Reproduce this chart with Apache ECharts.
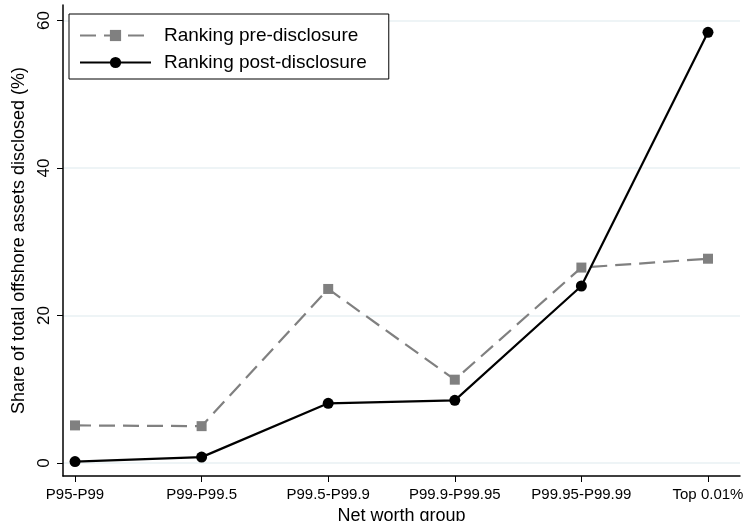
<!DOCTYPE html>
<html>
<head>
<meta charset="utf-8">
<script src="https://cdn.jsdelivr.net/npm/echarts@6/dist/echarts.min.js"></script>
<style>
  html, body { margin: 0; padding: 0; background: #fff; }
  #main { width: 743px; height: 521px; }
</style>
</head>
<body>
<div id="main"></div>
<script>
// net worth groups on the x axis
const groups = ['P95-P99', 'P99-P99.5', 'P99.5-P99.9', 'P99.9-P99.95', 'P99.95-P99.99', 'Top 0.01%'];
// share of total offshore assets disclosed (%)
const preDisclosure = [5.1, 5.0, 23.6, 11.3, 26.5, 27.7];
const postDisclosure = [0.2, 0.8, 8.1, 8.5, 24.0, 58.4];
const yTicks = [0, 20, 40, 60];

const font = 'Arial, "Liberation Sans", Helvetica, sans-serif';

function pairs(vals) {
  return vals.map((v, i) => [i, v]);
}

const chart = echarts.init(document.getElementById('main'));
chart.setOption({
  backgroundColor: '#fff',
  animation: false,
  textStyle: { fontFamily: font, color: '#000' },
  grid: { left: 63, right: 3, top: 5, bottom: 45, outerBoundsMode: 'none', containLabel: false },
  legend: {
    orient: 'vertical',
    left: 69,
    top: 14,
    padding: [12, 22, 7, 10],
    itemWidth: 71,
    itemHeight: 14,
    itemGap: 8,
    borderColor: '#000',
    borderWidth: 1,
    backgroundColor: '#fff',
    textStyle: { fontSize: 19, color: '#000', fontFamily: font, padding: [0, 0, 0, 8] },
    data: ['Ranking pre-disclosure', 'Ranking post-disclosure']
  },
  xAxis: {
    type: 'value',
    min: -0.095,
    max: 5.253,
    name: 'Net worth group',
    nameLocation: 'middle',
    nameGap: 30,
    nameTextStyle: { fontSize: 18, color: '#000', verticalAlign: 'top' },
    axisLine: { onZero: false, lineStyle: { color: '#000', width: 1.5 } },
    axisTick: { length: 6, lineStyle: { color: '#000' }, customValues: [0, 1, 2, 3, 4, 5] },
    axisLabel: {
      fontSize: 15,
      color: '#000',
      margin: 11,
      customValues: [0, 1, 2, 3, 4, 5],
      formatter: v => groups[Math.round(v)]
    },
    splitLine: { show: false }
  },
  yAxis: {
    type: 'value',
    min: -1.76,
    max: 62.1,
    name: 'Share of total offshore assets disclosed (%)',
    nameLocation: 'middle',
    nameGap: 35,
    nameTextStyle: { fontSize: 18, color: '#000' },
    axisLine: { show: true, onZero: false, lineStyle: { color: '#000', width: 1.5 } },
    axisTick: { show: true, length: 6, lineStyle: { color: '#000' }, customValues: yTicks },
    axisLabel: {
      fontSize: 17,
      color: '#000',
      rotate: 90,
      margin: 10,
      customValues: yTicks
    },
    splitLine: { show: true, lineStyle: { color: '#e8f0f3', width: 1.5 } }
  },
  series: [
    {
      name: 'Ranking pre-disclosure',
      type: 'line',
      data: pairs(preDisclosure),
      symbol: 'rect',
      symbolSize: 10,
      itemStyle: { color: '#808080' },
      lineStyle: { color: '#808080', width: 2.2, type: [16, 8] },
      z: 2
    },
    {
      name: 'Ranking post-disclosure',
      type: 'line',
      data: pairs(postDisclosure),
      symbol: 'circle',
      symbolSize: 11,
      itemStyle: { color: '#000' },
      lineStyle: { color: '#000', width: 2.2 },
      z: 3
    }
  ]
});
</script>
</body>
</html>
